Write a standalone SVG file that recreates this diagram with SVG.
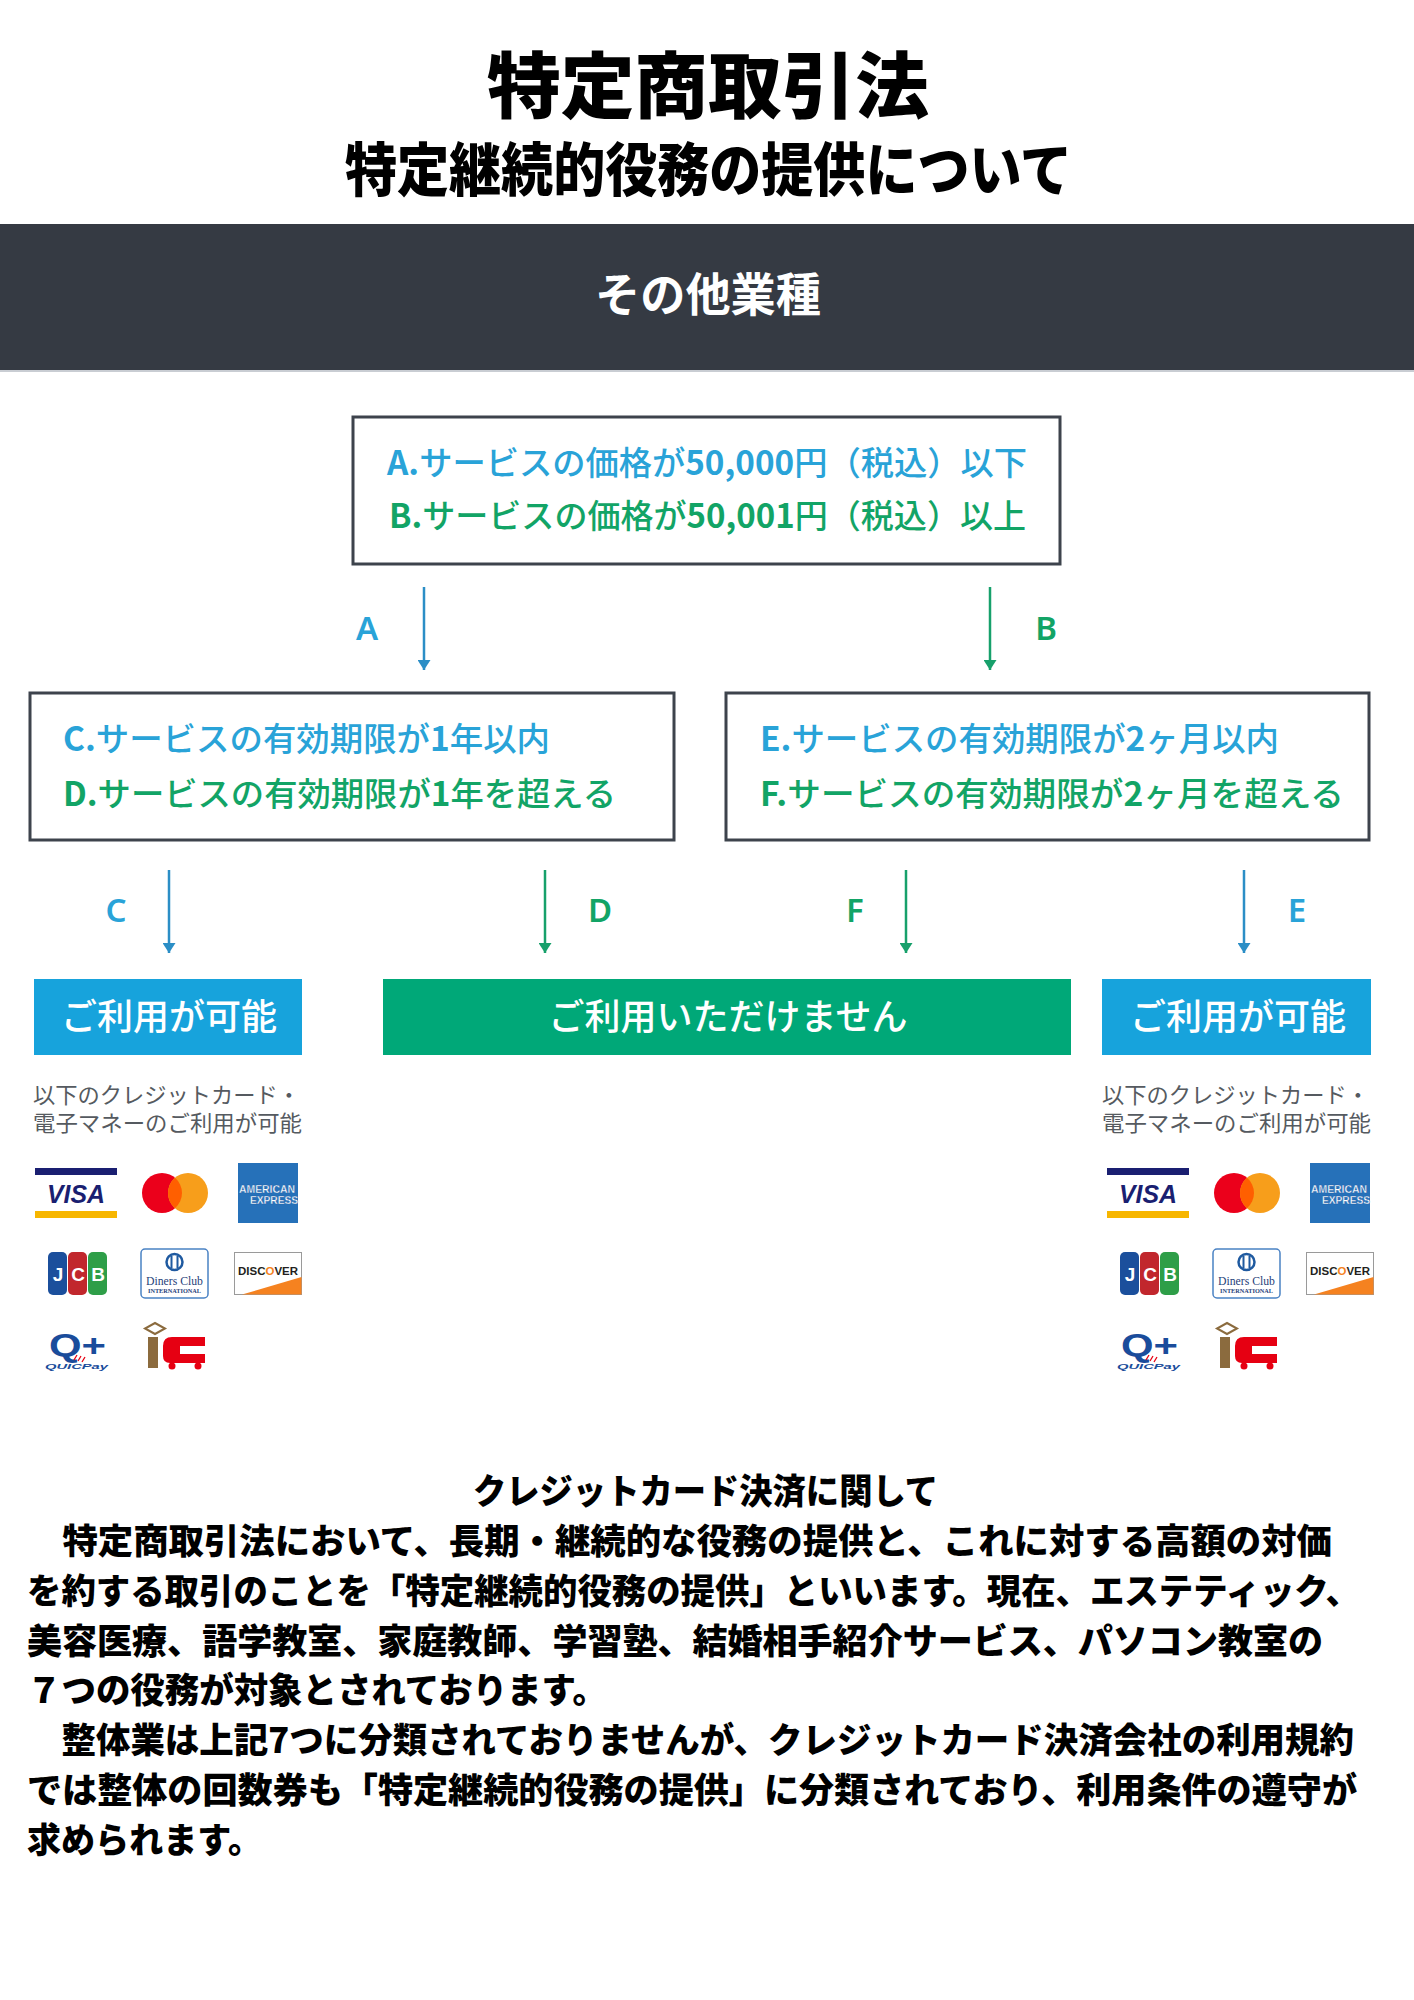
<svg xmlns="http://www.w3.org/2000/svg" xmlns:xlink="http://www.w3.org/1999/xlink" width="1414" height="2000" viewBox="0 0 1414 2000">
<style>
.jp{font-family:"Noto Sans CJK JP","Noto Sans CJK SC",sans-serif}
.heavy{font-family:"Noto Sans CJK JP","Noto Sans CJK SC",sans-serif;font-weight:900;fill:#000}
.box{fill:#fff;stroke:#3d434c;stroke-width:3}
.bt{font-family:"Noto Sans CJK JP","Noto Sans CJK SC",sans-serif;font-size:33px;font-weight:500}
.b{font-weight:700}
.blue{fill:#29a3d8}
.green{fill:#12a466}
.lbl{font-family:"Noto Sans","Noto Sans CJK JP",sans-serif;font-size:33px;font-weight:600;text-anchor:middle}
.arB{stroke:#2b8ec6;stroke-width:2.5;fill:none;marker-end:url(#hB)}
.arG{stroke:#17a06b;stroke-width:2.5;fill:none;marker-end:url(#hG)}
.res{font-family:"Noto Sans CJK JP","Noto Sans CJK SC",sans-serif;font-size:36px;font-weight:500;fill:#fff;text-anchor:middle}
.cap{font-family:"Noto Sans CJK JP","Noto Sans CJK SC",sans-serif;font-size:22px;font-weight:400;fill:#555a60}
.para{font-family:"Noto Sans CJK JP","Noto Sans CJK SC",sans-serif;font-size:35px;font-weight:900;fill:#000}
</style>
<defs>
<marker id="hB" viewBox="0 0 10 13" markerWidth="10" markerHeight="13" refX="10" refY="6.5" orient="auto" markerUnits="userSpaceOnUse"><path d="M0,0 L10,6.5 L0,13 z" fill="#2b8ec6"/></marker>
<marker id="hG" viewBox="0 0 10 13" markerWidth="10" markerHeight="13" refX="10" refY="6.5" orient="auto" markerUnits="userSpaceOnUse"><path d="M0,0 L10,6.5 L0,13 z" fill="#17a06b"/></marker>
<g id="logos">
  <g id="visa">
    <rect x="35" y="1168" width="82" height="7" fill="#1a1f71"/>
    <rect x="35" y="1211" width="82" height="7" fill="#f7b600"/>
    <text x="47" y="1203" font-family="Liberation Sans,sans-serif" font-size="25" font-weight="bold" font-style="italic" fill="#1a1f71" textLength="58" lengthAdjust="spacingAndGlyphs">VISA</text>
  </g>
  <g id="master">
    <circle cx="162" cy="1193" r="20" fill="#eb001b"/>
    <circle cx="188" cy="1193" r="20" fill="#f79e1b"/>
    <path d="M175,1177.8 A20,20 0 0 1 175,1208.2 A20,20 0 0 1 175,1177.8 z" fill="#ff5f00"/>
  </g>
  <g id="amex">
    <rect x="238" y="1163" width="60" height="60" fill="#2671b9"/>
    <text x="239" y="1193" font-family="Liberation Sans,sans-serif" font-size="10" font-weight="bold" fill="#fff" stroke="#1b5ea8" stroke-width="0.3" textLength="56" lengthAdjust="spacingAndGlyphs">AMERICAN</text>
    <text x="250" y="1204" font-family="Liberation Sans,sans-serif" font-size="10" font-weight="bold" fill="#fff" stroke="#1b5ea8" stroke-width="0.3" textLength="48" lengthAdjust="spacingAndGlyphs">EXPRESS</text>
  </g>
  <g id="jcb">
    <rect x="48" y="1252" width="19" height="43" rx="5" fill="#1b4f9c"/>
    <rect x="68" y="1252" width="19" height="43" rx="5" fill="#c1272d"/>
    <rect x="88" y="1252" width="19" height="43" rx="5" fill="#2e9e48"/>
    <text y="1281" font-family="Liberation Sans,sans-serif" font-size="19" font-weight="bold" fill="#fff" text-anchor="middle"><tspan x="58">J</tspan><tspan x="78">C</tspan><tspan x="98">B</tspan></text>
  </g>
  <g id="diners">
    <rect x="141" y="1249" width="67" height="49" rx="4" fill="#fff" stroke="#4a82c4" stroke-width="1.5"/>
    <circle cx="174.5" cy="1262" r="8" fill="none" stroke="#1f5aa0" stroke-width="2.5"/>
    <path d="M171.5,1256 V1268 M177.5,1256 V1268" stroke="#1f5aa0" stroke-width="2"/>
    <text x="146" y="1285" font-family="Liberation Serif,serif" font-size="12" fill="#1f3f7a" textLength="57" lengthAdjust="spacingAndGlyphs">Diners Club</text>
    <text x="148" y="1293" font-family="Liberation Serif,serif" font-size="5.5" font-weight="bold" fill="#1f3f7a" textLength="53" lengthAdjust="spacingAndGlyphs">INTERNATIONAL</text>
  </g>
  <g id="discover">
    <rect x="234.5" y="1252.5" width="67" height="42" fill="#fff" stroke="#9a9a9a" stroke-width="1"/>
    <polygon points="242,1294.5 301.5,1277 301.5,1294.5" fill="#f58220"/>
    <text x="238" y="1275" font-family="Liberation Sans,sans-serif" font-size="11.5" font-weight="bold" fill="#231f20" textLength="60" lengthAdjust="spacingAndGlyphs">DISC<tspan fill="#f58220">O</tspan>VER</text>
  </g>
  <g id="quicpay">
    <text x="49" y="1356" font-family="Liberation Sans,sans-serif" font-size="32" font-weight="bold" fill="#1a4c9b" textLength="57" lengthAdjust="spacingAndGlyphs">Q+</text>
    <path d="M74,1360 l3,-5 M78,1361 l3,-5 M82,1362 l3,-5" stroke="#e60012" stroke-width="1.3"/>
    <text x="45" y="1369" font-family="Liberation Sans,sans-serif" font-size="7" font-weight="bold" font-style="italic" fill="#1a4c9b" textLength="63" lengthAdjust="spacingAndGlyphs">QUICPay</text>
  </g>
  <g id="ic">
    <polygon points="155,1323 165,1328.5 155,1334 145,1328.5" fill="none" stroke="#8b6b3e" stroke-width="2"/>
    <rect x="148" y="1337" width="10" height="31" fill="#8b6b3e"/>
    <path d="M205,1337 H172 Q163,1337 163,1346 V1356 Q163,1363 170,1363 H205 V1354 H180 V1346 H205 Z" fill="#e60012"/>
    <circle cx="172" cy="1366" r="3.5" fill="#e60012"/>
    <circle cx="198" cy="1366" r="3.5" fill="#e60012"/>
  </g>
</g>
</defs>

<rect x="0" y="0" width="1414" height="2000" fill="#fff"/>

<g id="title">
  <text class="heavy" x="487" y="112" font-size="72" textLength="442" lengthAdjust="spacingAndGlyphs">特定商取引法</text>
  <text class="heavy" x="345" y="191" font-size="58" textLength="727" lengthAdjust="spacingAndGlyphs">特定継続的役務の提供について</text>
</g>

<g id="banner">
  <rect x="0" y="224" width="1414" height="146" fill="#353a43"/>
  <rect x="0" y="370" width="1414" height="2" fill="#c9cdd3"/>
  <text class="jp" x="595" y="311" font-size="46" font-weight="700" fill="#fff" textLength="226" lengthAdjust="spacingAndGlyphs">その他業種</text>
</g>

<g id="node-price">
  <rect class="box" x="353" y="417" width="707" height="147"/>
  <text class="bt blue" x="387" y="475" textLength="640" lengthAdjust="spacingAndGlyphs"><tspan class="b">A.</tspan>サービスの価格が<tspan class="b">50,000</tspan>円（税込）以下</text>
  <text class="bt green" x="389" y="528" textLength="637" lengthAdjust="spacingAndGlyphs"><tspan class="b">B.</tspan>サービスの価格が<tspan class="b">50,001</tspan>円（税込）以上</text>
</g>

<g id="node-period-1y">
  <rect class="box" x="30" y="693" width="644" height="147"/>
  <text class="bt blue" x="63" y="751" textLength="487" lengthAdjust="spacingAndGlyphs"><tspan class="b">C.</tspan>サービスの有効期限が<tspan class="b">1</tspan>年以内</text>
  <text class="bt green" x="63" y="806" textLength="553" lengthAdjust="spacingAndGlyphs"><tspan class="b">D.</tspan>サービスの有効期限が<tspan class="b">1</tspan>年を超える</text>
</g>

<g id="node-period-2m">
  <rect class="box" x="726" y="693" width="643" height="147"/>
  <text class="bt blue" x="760" y="751" textLength="519" lengthAdjust="spacingAndGlyphs"><tspan class="b">E.</tspan>サービスの有効期限が<tspan class="b">2</tspan>ヶ月以内</text>
  <text class="bt green" x="760" y="806" textLength="584" lengthAdjust="spacingAndGlyphs"><tspan class="b">F.</tspan>サービスの有効期限が<tspan class="b">2</tspan>ヶ月を超える</text>
</g>

<g id="connectors">
  <line class="arB" x1="424" y1="587" x2="424" y2="670"/>
  <line class="arG" x1="990" y1="587" x2="990" y2="670"/>
  <line class="arB" x1="169" y1="870" x2="169" y2="953"/>
  <line class="arG" x1="545" y1="870" x2="545" y2="953"/>
  <line class="arG" x1="906" y1="870" x2="906" y2="953"/>
  <line class="arB" x1="1244" y1="870" x2="1244" y2="953"/>
  <text class="lbl blue" x="367" y="640">A</text>
  <text class="lbl green" x="1046" y="640">B</text>
  <text class="lbl blue" x="116" y="922">C</text>
  <text class="lbl green" x="600" y="922">D</text>
  <text class="lbl green" x="855" y="922">F</text>
  <text class="lbl blue" x="1297" y="922">E</text>
</g>

<g id="node-ok-left">
  <rect x="34" y="979" width="268" height="76" fill="#17a3dc"/>
  <text class="res" x="169" y="1030">ご利用が可能</text>
</g>

<g id="node-ng">
  <rect x="383" y="979" width="688" height="76" fill="#00a878"/>
  <text class="res" x="728" y="1030">ご利用いただけません</text>
</g>

<g id="node-ok-right">
  <rect x="1102" y="979" width="269" height="76" fill="#17a3dc"/>
  <text class="res" x="1238" y="1030">ご利用が可能</text>
</g>

<g id="cards-left">
  <text class="cap" x="33" y="1103" textLength="267" lengthAdjust="spacingAndGlyphs">以下のクレジットカード・</text>
  <text class="cap" x="33" y="1131" textLength="269" lengthAdjust="spacingAndGlyphs">電子マネーのご利用が可能</text>
  <use xlink:href="#logos" href="#logos"/>
</g>

<g id="cards-right">
  <text class="cap" x="1102" y="1103" textLength="267" lengthAdjust="spacingAndGlyphs">以下のクレジットカード・</text>
  <text class="cap" x="1102" y="1131" textLength="269" lengthAdjust="spacingAndGlyphs">電子マネーのご利用が可能</text>
  <use xlink:href="#logos" href="#logos" transform="translate(1072,0)"/>
</g>

<g id="note">
  <text class="para" x="473" y="1504" textLength="465" lengthAdjust="spacingAndGlyphs">クレジットカード決済に関して</text>
  <text class="para" x="27" y="1554" textLength="1305" lengthAdjust="spacingAndGlyphs">　特定商取引法において、長期・継続的な役務の提供と、これに対する高額の対価</text>
  <text class="para" x="27" y="1604" textLength="1333" lengthAdjust="spacingAndGlyphs">を約する取引のことを「特定継続的役務の提供」といいます。現在、エステティック、</text>
  <text class="para" x="27" y="1654" textLength="1296" lengthAdjust="spacingAndGlyphs">美容医療、語学教室、家庭教師、学習塾、結婚相手紹介サービス、パソコン教室の</text>
  <text class="para" x="27" y="1703" textLength="580" lengthAdjust="spacingAndGlyphs">７つの役務が対象とされております。</text>
  <text class="para" x="27" y="1753" textLength="1327" lengthAdjust="spacingAndGlyphs">　整体業は上記7つに分類されておりませんが、クレジットカード決済会社の利用規約</text>
  <text class="para" x="27" y="1803" textLength="1330" lengthAdjust="spacingAndGlyphs">では整体の回数券も「特定継続的役務の提供」に分類されており、利用条件の遵守が</text>
  <text class="para" x="27" y="1853" textLength="235" lengthAdjust="spacingAndGlyphs">求められます。</text>
</g>
</svg>
